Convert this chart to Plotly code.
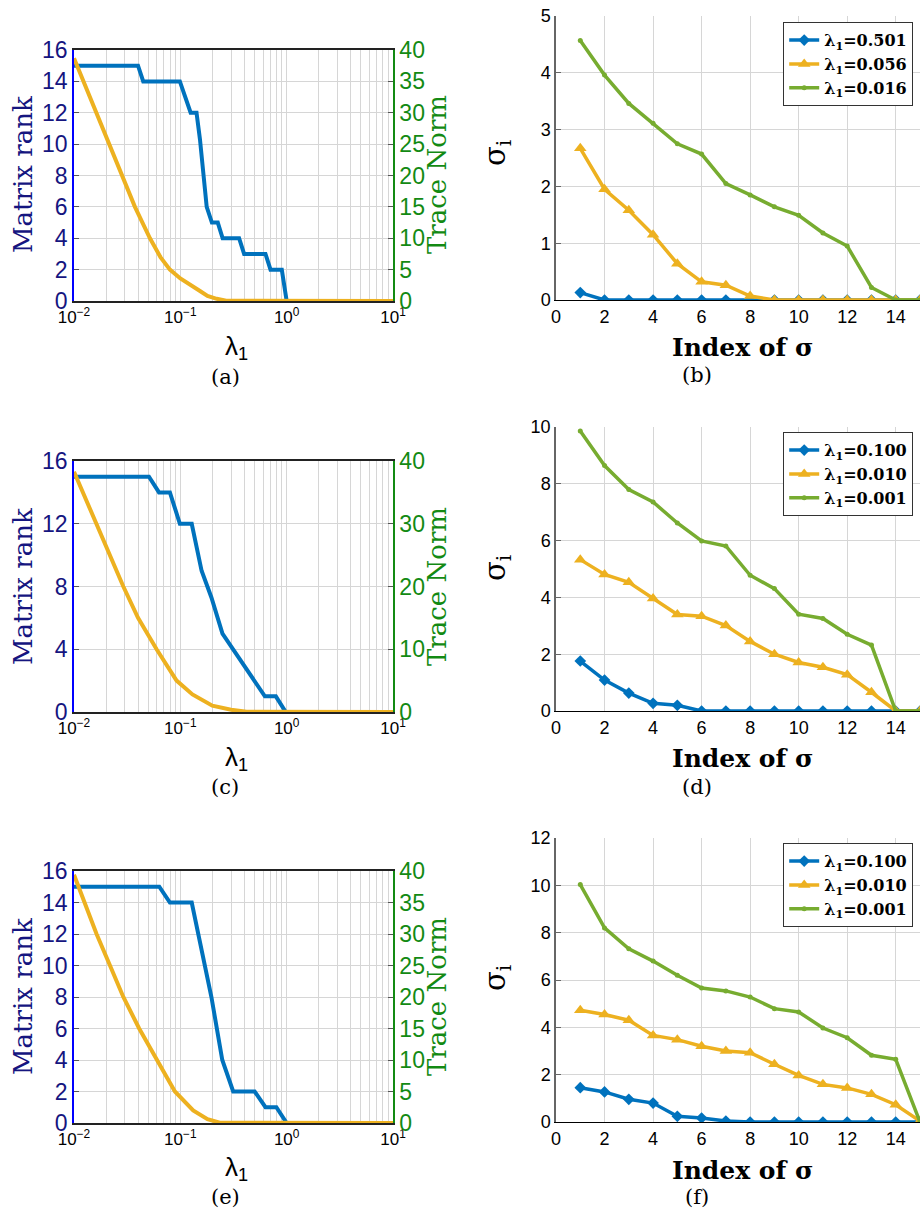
import plotly.graph_objects as go

# ---------------- data ----------------
# (a)
a_lam_rank = [0.01, 0.040, 0.0448, 0.099, 0.125, 0.142, 0.153, 0.177, 0.198, 0.225, 0.25, 0.357, 0.398, 0.632, 0.705, 0.90, 1.0, 10]
a_rank = [15, 15, 14, 14, 12, 12, 10.3, 6, 5, 5, 4, 4, 3, 3, 2, 2, 0, 0]
a_lam_norm = [0.01, 0.0162, 0.0215, 0.0284, 0.0374, 0.0518, 0.065, 0.0798, 0.10, 0.153, 0.18, 0.22, 0.27, 10]
a_norm = [38.7, 30, 25, 20, 15, 10, 7, 5, 3.6, 1.6, 0.8, 0.35, 0.05, 0]
# (c)
c_lam_rank = [0.01, 0.0507, 0.063, 0.0798, 0.099, 0.128, 0.1585, 0.196, 0.249, 0.624, 0.791, 0.98, 10]
c_rank = [15, 15, 14, 14, 12, 12, 9, 7.3, 5, 1, 1, 0, 0]
c_lam_norm = [0.01, 0.0163, 0.0218, 0.0291, 0.040, 0.0598, 0.0922, 0.13, 0.20, 0.30, 0.42, 10]
c_norm = [38.3, 30, 25, 20, 15, 10, 5, 2.8, 1.0, 0.35, 0.05, 0]
# (e)
e_lam_rank = [0.01, 0.0634, 0.0798, 0.128, 0.196, 0.248, 0.314, 0.50, 0.632, 0.80, 1.0, 10]
e_rank = [15, 15, 14, 14, 8, 4, 2, 2, 1, 1, 0, 0]
e_lam_norm = [0.01, 0.0163, 0.0218, 0.0291, 0.041, 0.0598, 0.0889, 0.132, 0.18, 0.235, 10]
e_norm = [39.4, 30, 25, 20, 15, 10, 5, 2, 0.6, 0.05, 0]

idx = list(range(1, 16))
# (b)
b_labels = ["λ<sub>1</sub>=0.501", "λ<sub>1</sub>=0.056", "λ<sub>1</sub>=0.016"]
b_blue = [0.13, 0, 0, 0, 0, 0, 0, 0, 0, 0, 0, 0, 0, 0, 0]
b_orange = [2.67, 1.95, 1.58, 1.15, 0.64, 0.32, 0.26, 0.07, 0, 0, 0, 0, 0, 0, 0]
b_green = [4.57, 3.96, 3.46, 3.11, 2.75, 2.57, 2.05, 1.85, 1.64, 1.49, 1.18, 0.95, 0.22, 0, 0]
# (d)
d_labels = ["λ<sub>1</sub>=0.100", "λ<sub>1</sub>=0.010", "λ<sub>1</sub>=0.001"]
d_blue = [1.76, 1.09, 0.63, 0.27, 0.20, 0, 0, 0, 0, 0, 0, 0, 0, 0, 0]
d_orange = [5.33, 4.81, 4.53, 3.96, 3.40, 3.34, 3.01, 2.45, 2.00, 1.71, 1.54, 1.28, 0.66, 0, 0]
d_green = [9.86, 8.64, 7.80, 7.36, 6.62, 5.99, 5.81, 4.78, 4.31, 3.41, 3.26, 2.70, 2.32, 0, 0]
# (f)
f_labels = ["λ<sub>1</sub>=0.100", "λ<sub>1</sub>=0.010", "λ<sub>1</sub>=0.001"]
f_blue = [1.45, 1.27, 0.96, 0.80, 0.24, 0.17, 0.04, 0, 0, 0, 0, 0, 0, 0, 0]
f_orange = [4.72, 4.54, 4.30, 3.66, 3.48, 3.20, 3.00, 2.93, 2.44, 1.97, 1.59, 1.44, 1.17, 0.73, 0.04]
f_green = [10.03, 8.20, 7.32, 6.80, 6.20, 5.66, 5.54, 5.28, 4.79, 4.65, 3.97, 3.56, 2.82, 2.65, 0.0]

log_tickvals = [0.01, 0.1, 1, 10]
log_ticktext = ["10<sup>−2</sup>", "10<sup>−1</sup>", "10<sup>0</sup>", "10<sup>1</sup>"]
log_minor = [m * d for d in [0.01, 0.1, 1] for m in range(2, 10)]

# ---------------- style ----------------
W, H = 920, 1212
BLUE = "#0072BD"
ORANGE = "#EDB120"
GREEN = "#77AC30"
NAVY = "#15157f"
DKGREEN = "#138a13"
GRID = "#d6d6d6"
SANS = "Liberation Sans, Arial, sans-serif"
DSERIF = "DejaVu Serif, serif"


def px(x):
    return x / W


def py(y):
    return 1 - y / H


fig = go.Figure()
layout = dict(width=W, height=H, margin=dict(l=0, r=0, t=0, b=0, pad=0, autoexpand=False),
              autosize=False, paper_bgcolor="white", plot_bgcolor="white", showlegend=True)
annotations = []


def ann(text, x, y, size, color="black", family=DSERIF, angle=0):
    return dict(text=text, x=px(x), y=py(y), xref="paper", yref="paper", textangle=angle,
                xanchor="center", yanchor="middle", showarrow=False,
                font=dict(family=family, size=size, color=color))


left_panels = [
    (1, 1, 2, 50, 301, (a_lam_rank, a_rank), (a_lam_norm, a_norm), 2, 5, "(a)", 347, 377, 175),
    (3, 4, 5, 461, 712, (c_lam_rank, c_rank), (c_lam_norm, c_norm), 4, 10, "(c)", 758, 787, 587),
    (5, 7, 8, 871, 1123, (e_lam_rank, e_rank), (e_lam_norm, e_norm), 2, 5, "(e)", 1168, 1197, 997),
]

for xn, yl, yr, top, bot, rk, nm, dl, dr, letter, laby, lety, midy in left_panels:
    xs = "x" if xn == 1 else f"x{xn}"
    yls = "y" if yl == 1 else f"y{yl}"
    yrs = f"y{yr}"
    fig.add_trace(go.Scatter(x=rk[0], y=rk[1], mode="lines", line=dict(color=BLUE, width=4),
                             xaxis=xs, yaxis=yls, showlegend=False))
    fig.add_trace(go.Scatter(x=nm[0], y=nm[1], mode="lines", line=dict(color=ORANGE, width=4),
                             xaxis=xs, yaxis=yrs, showlegend=False))
    xk = "xaxis" if xn == 1 else f"xaxis{xn}"
    ylk = "yaxis" if yl == 1 else f"yaxis{yl}"
    yrk = f"yaxis{yr}"
    layout[xk] = dict(domain=[px(74), px(393)], anchor=yls, type="log", range=[-2, 1],
                      tickmode="array", tickvals=log_tickvals, ticktext=log_ticktext,
                      tickfont=dict(family=SANS, size=17, color="black"),
                      showgrid=True, gridcolor=GRID, gridwidth=1,
                      minor=dict(tickmode="array", tickvals=log_minor, showgrid=True,
                                 gridcolor=GRID, gridwidth=1, ticks=""),
                      showline=True, linecolor="#222", linewidth=1.5, mirror=True,
                      ticks="", zeroline=False, automargin=False, ticklabeloverflow="allow")
    layout[ylk] = dict(domain=[py(bot), py(top)], anchor=xs, range=[0, 16], dtick=dl,
                       tickfont=dict(family=SANS, size=23, color=NAVY),
                       showgrid=True, gridcolor=GRID, zeroline=False,
                       showline=True, linecolor="#0000ff", linewidth=1.5,
                       ticks="inside", ticklen=5, tickcolor="#555", automargin=False,
                       ticklabeloverflow="allow")
    layout[yrk] = dict(overlaying=yls, side="right", anchor=xs, range=[0, 40], dtick=dr,
                       tickfont=dict(family=SANS, size=23, color=DKGREEN),
                       showgrid=False, zeroline=False,
                       showline=True, linecolor=DKGREEN, linewidth=1.5,
                       ticks="inside", ticklen=5, tickcolor="#555", automargin=False,
                       ticklabeloverflow="allow")
    annotations += [
        ann("Matrix rank", 23, midy, 26, NAVY, angle=-90),
        ann("Trace Norm", 437, midy, 26, DKGREEN, angle=-90),
        ann("λ<sub>1</sub>", 236, laby, 26, family=SANS),
        ann(letter, 225, lety, 21),
    ]

right_panels = [
    (2, 3, 16, 300, (b_blue, b_orange, b_green), b_labels, 5, 1, "(b)", 347, 375, 153, "legend", 22),
    (4, 6, 427, 711, (d_blue, d_orange, d_green), d_labels, 10, 2, "(d)", 758, 787, 568, "legend2", 432),
    (6, 9, 838, 1122, (f_blue, f_orange, f_green), f_labels, 12, 2, "(f)", 1170, 1197, 978, "legend3", 843),
]

for xn, yn, top, bot, series, labels, ymax, dy, letter, laby, lety, midy, leg, legy in right_panels:
    xs, ys = f"x{xn}", f"y{yn}"
    styles = [
        (BLUE, dict(symbol="diamond", size=9, color=BLUE)),
        (ORANGE, dict(symbol="triangle-up", size=11, color=ORANGE)),
        (GREEN, dict(symbol="circle", size=5, color=GREEN)),
    ]
    for vals, lab, (col, mk) in zip(series, labels, styles):
        fig.add_trace(go.Scatter(x=idx, y=vals, mode="lines+markers", name=lab,
                                 line=dict(color=col, width=3.5), marker=mk,
                                 xaxis=xs, yaxis=ys, legend=leg))
    layout[f"xaxis{xn}"] = dict(domain=[px(556), 1.0], anchor=ys, range=[0, 15], dtick=2,
                                tickfont=dict(family=SANS, size=18, color="black"),
                                showgrid=True, gridcolor=GRID, zeroline=False,
                                showline=True, linecolor="black", linewidth=1.2,
                                ticks="", automargin=False, ticklabeloverflow="allow")
    layout[f"yaxis{yn}"] = dict(domain=[py(bot), py(top)], anchor=xs, range=[0, ymax], dtick=dy,
                                tickfont=dict(family=SANS, size=18, color="black"),
                                showgrid=True, gridcolor=GRID, zeroline=False,
                                showline=True, linecolor="#666", linewidth=1.5,
                                ticks="inside", ticklen=5, tickcolor="#666", automargin=False,
                                ticklabeloverflow="allow")
    layout[leg] = dict(x=px(913), y=py(legy), xanchor="right", yanchor="top",
                       bgcolor="white", bordercolor="#333", borderwidth=1.2,
                       font=dict(family=DSERIF, size=16, color="black", weight="bold"),
                       itemwidth=30, tracegroupgap=0)
    annotations += [
        ann("σ<sub>i</sub>", 497, midy, 29, angle=-90),
        ann("<b>Index of σ</b>", 742, laby, 25),
        ann(letter, 697, lety, 21),
    ]

layout["annotations"] = annotations
fig.update_layout(**layout)
# remove the browser's default 8px body margin so the 920x1212 figure fills the window exactly
fig.write_html("out.html", config={"displayModeBar": False},
               post_script="document.body.style.margin='0px';document.body.style.overflow='hidden';")
